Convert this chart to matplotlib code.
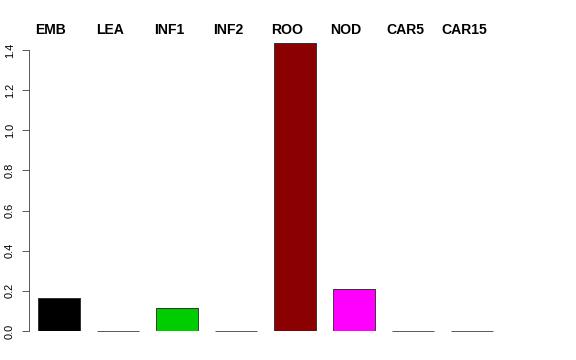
import matplotlib
matplotlib.use("Agg")
import matplotlib.pyplot as plt

tissues = ["EMB", "LEA", "INF1", "INF2", "ROO", "NOD", "CAR5", "CAR15"]
values = [0.164, 0.0, 0.115, 0.0, 1.435, 0.21, 0.0, 0.0]
colors = ["#000000", "#FF0000", "#00CD00", "#0000FF", "#8B0000", "#FF00FF", "#FFA500", "#A020F0"]
yticks = [0.0, 0.2, 0.4, 0.6, 0.8, 1.0, 1.2, 1.4]

plt.rcParams["font.family"] = ["Liberation Sans", "DejaVu Sans"]

W, H = 576, 360
fig = plt.figure(figsize=(W / 72, H / 72), dpi=72)

# plot region in pixels
left_px, right_px, top_px, bottom_px = 29, 545, 30, 331
ax = fig.add_axes([left_px / W, 1 - bottom_px / H,
                   (right_px - left_px) / W, (bottom_px - top_px) / H])

x = [0.7 + 1.2 * i for i in range(len(tissues))]
w = 0.85
ax.bar(x, values, width=w, color=colors, edgecolor="#222222", linewidth=0.8)
# zero-height bars still show their outline in R
ax.hlines(values, [xi - w / 2 for xi in x], [xi + w / 2 for xi in x],
          color="#333333", linewidth=0.8, clip_on=False)

unit_x = 49.2
x0 = 0.7 - (59 - left_px) / unit_x
ax.set_xlim(x0, x0 + (right_px - left_px) / unit_x)
unit_y = 200.7
ax.set_ylim(0, (bottom_px - top_px) / unit_y)

# labels sit a little left of the bar centres in the original
for xi, name in zip(x, tissues):
    ax.text(xi - 8 / unit_x, 1.0, name, transform=ax.get_xaxis_transform(),
            ha="center", va="center", fontsize=14, fontweight="bold")

for s in ["top", "right", "bottom"]:
    ax.spines[s].set_visible(False)
ax.spines["left"].set_bounds(0, 1.4)
ax.spines["left"].set_color("#333333")
ax.set_xticks([])
ax.set_yticks(yticks)
ax.set_yticklabels([f"{v:.1f}" for v in yticks], rotation=90, va="center", fontsize=11)
ax.tick_params(axis="y", length=7, color="#333333", pad=7)

fig.savefig("out.png", dpi=72)
